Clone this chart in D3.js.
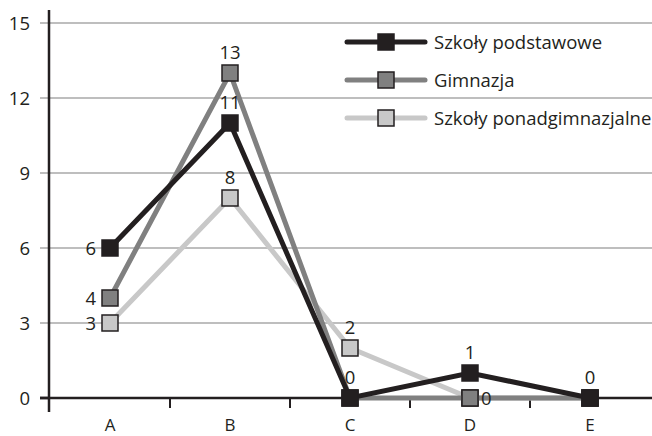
<!DOCTYPE html>
<html><head><meta charset="utf-8">
<script src="https://cdn.jsdelivr.net/npm/d3@7"></script>
<style>body{margin:0;background:#fff}svg{display:block;font-family:"Open Sans","DejaVu Sans",sans-serif}</style>
</head><body><svg id="c" width="652" height="436"></svg>
<script>
const categories = ["A","B","C","D","E"];
const seriesNames = ["Szkoły podstawowe","Gimnazja","Szkoły ponadgimnazjalne"];
const podstawowe = [6,11,0,1,0];
const gimnazja = [4,13,0,0,0];
const ponadgimnazjalne = [3,8,2,0,0];
const yTicks = [0,3,6,9,12,15];
// label placement per point: null = no label
const labPodst = ["left","top","top","top","top"];
const labGimn = ["left","top",null,"right",null];
const labPonad = ["left","top","top",null,null];

const svg = d3.select("#c");
const x = d3.scaleBand().domain(categories).range([50,650]);
const y = d3.scaleLinear().domain([0,15]).range([398,23]);
const ink = "#231f20";
const fs = 18.5;

// gridlines
svg.append("g").selectAll("line").data(yTicks.filter(d=>d>0)).join("line")
  .attr("x1",40).attr("x2",652).attr("y1",d=>y(d)).attr("y2",d=>y(d))
  .attr("stroke","#a9a9a9").attr("stroke-width",1.5);
svg.append("line").attr("x1",40).attr("x2",49).attr("y1",y(0)).attr("y2",y(0)).attr("stroke",ink).attr("stroke-width",2.5);
// y tick labels
svg.append("g").selectAll("text").data(yTicks).join("text")
  .attr("x",30).attr("y",d=>y(d)).attr("dy","0.36em").attr("text-anchor","end")
  .attr("font-size",fs).attr("fill",ink).text(d=>d);
// y axis line
svg.append("line").attr("x1",49).attr("x2",49).attr("y1",10).attr("y2",412).attr("stroke",ink).attr("stroke-width",2.5);
// x axis
svg.append("line").attr("x1",40).attr("x2",652).attr("y1",y(0)).attr("y2",y(0)).attr("stroke",ink).attr("stroke-width",2.5);
svg.append("g").selectAll("line").data(categories.slice(1)).join("line")
  .attr("x1",d=>x(d)).attr("x2",d=>x(d)).attr("y1",y(0)).attr("y2",y(0)+10)
  .attr("stroke",ink).attr("stroke-width",2);
svg.append("g").selectAll("text").data(categories).join("text")
  .attr("x",d=>x(d)+x.bandwidth()/2).attr("y",431).attr("text-anchor","middle")
  .attr("font-size",17).attr("fill",ink).text(d=>d);

const series = [
  {name:seriesNames[2], vals:ponadgimnazjalne, color:"#c8c8c8", labs:labPonad},
  {name:seriesNames[1], vals:gimnazja, color:"#808080", labs:labGimn},
  {name:seriesNames[0], vals:podstawowe, color:ink, labs:labPodst}
];
const cx = d=>x(d)+x.bandwidth()/2;
const line = d3.line().x((v,i)=>cx(categories[i])).y(v=>y(v));
series.forEach(s=>{
  svg.append("path").attr("d",line(s.vals)).attr("fill","none").attr("stroke",s.color).attr("stroke-width",5).attr("stroke-linejoin","miter");
  svg.append("g").selectAll("rect").data(s.vals).join("rect")
    .attr("x",(v,i)=>cx(categories[i])-8).attr("y",v=>y(v)-8).attr("width",16).attr("height",16)
    .attr("fill",s.color).attr("stroke",ink).attr("stroke-width",1.5);
});
series.forEach(s=>{
  svg.append("g").selectAll("text").data(s.vals.map((v,i)=>({v,i,p:s.labs[i]})).filter(d=>d.p)).join("text")
    .attr("x",d=>cx(categories[d.i]) + (d.p==="left"?-14:d.p==="right"?11:0))
    .attr("y",d=>y(d.v) + (d.p==="top"?-14:0))
    .attr("dy",d=>d.p==="top"?"0":"0.36em")
    .attr("text-anchor",d=>d.p==="left"?"end":d.p==="right"?"start":"middle")
    .attr("font-size",fs).attr("fill",ink).text(d=>d.v);
});
// legend
const leg = svg.append("g");
seriesNames.forEach((n,i)=>{
  const col = [ink,"#808080","#c8c8c8"][i];
  const yy = 42 + i*38;
  leg.append("line").attr("x1",347).attr("x2",425).attr("y1",yy).attr("y2",yy).attr("stroke",col).attr("stroke-width",5).attr("stroke-linecap","round");
  leg.append("rect").attr("x",378).attr("y",yy-8).attr("width",16).attr("height",16).attr("fill",col).attr("stroke",ink).attr("stroke-width",1.5);
  leg.append("text").attr("x",434).attr("y",yy).attr("dy","0.36em").attr("font-size",fs).attr("fill",ink).text(n);
});
</script></body></html>
